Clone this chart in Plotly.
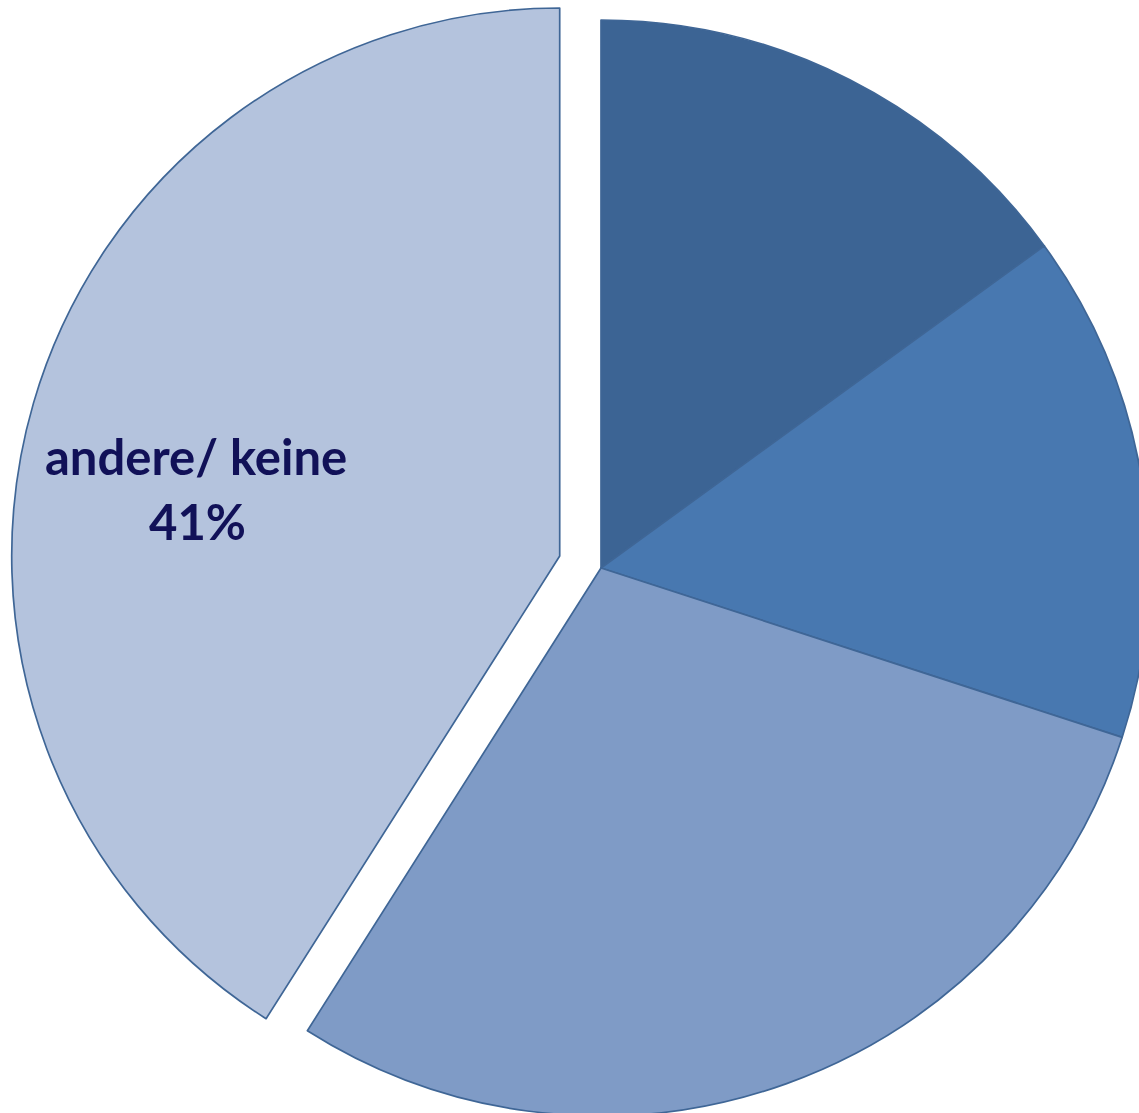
import math
import plotly.graph_objects as go

# Shares in percent, clockwise from 12 o'clock
labels = ["Gruppe 1", "Gruppe 2", "Gruppe 3", "andere/ keine"]
values = [15, 15, 29, 41]
colors = ["#3C6494", "#4878B0", "#7F9BC6", "#B4C3DD"]
pulled = 3  # index of the slice that is exploded

# Canvas and pie geometry (pixels)
W, H = 1160, 1130
CX, CY, R = 601, 568, 548
PULL_PX = 43
EDGE = "#3F6696"
EDGE_W = 1.7
TRANSPARENT = "rgba(0,0,0,0)"


def domain(cx, cy, r):
    return dict(
        x=[(cx - r) / W, (cx + r) / W],
        y=[1 - (cy + r) / H, 1 - (cy - r) / H],
    )


# Direction of the exploded slice: middle of its angular span
total = sum(values)
start = sum(values[:pulled]) / total * 360
mid = math.radians(start + values[pulled] / total * 180)
PX = CX + PULL_PX * math.sin(mid)
PY = CY - PULL_PX * math.cos(mid)

base_colors = [c if i != pulled else TRANSPARENT for i, c in enumerate(colors)]
base_lines = [EDGE_W if i != pulled else 0 for i in range(len(values))]
out_colors = [c if i == pulled else TRANSPARENT for i, c in enumerate(colors)]
out_lines = [EDGE_W if i == pulled else 0 for i in range(len(values))]

common = dict(
    labels=labels,
    values=values,
    sort=False,
    direction="clockwise",
    rotation=0,
    textinfo="none",
    hoverinfo="label+percent",
    showlegend=False,
)

fig = go.Figure()
fig.add_trace(go.Pie(
    **common,
    domain=domain(CX, CY, R),
    marker=dict(colors=base_colors, line=dict(color=EDGE, width=base_lines)),
))
fig.add_trace(go.Pie(
    **common,
    domain=domain(PX, PY, R),
    marker=dict(colors=out_colors, line=dict(color=EDGE, width=out_lines)),
))

label_font = dict(family="Lato, 'Open Sans', sans-serif", size=49, color="#111158")
fig.add_annotation(
    x=196 / W, y=1 - 456 / H, xref="paper", yref="paper",
    text=f"<b>{labels[pulled]}</b>", showarrow=False,
    xanchor="center", yanchor="middle", font=label_font,
)
fig.add_annotation(
    x=197 / W, y=1 - 521 / H, xref="paper", yref="paper",
    text=f"<b>{values[pulled]}%</b>", showarrow=False,
    xanchor="center", yanchor="middle", font=label_font,
)

fig.update_layout(
    width=W,
    height=H,
    margin=dict(l=0, r=0, t=0, b=0),
    paper_bgcolor="white",
    plot_bgcolor="white",
)

fig.write_html(
    "out.html",
    post_script="document.body.style.margin='0';document.body.style.overflow='hidden';",
)
